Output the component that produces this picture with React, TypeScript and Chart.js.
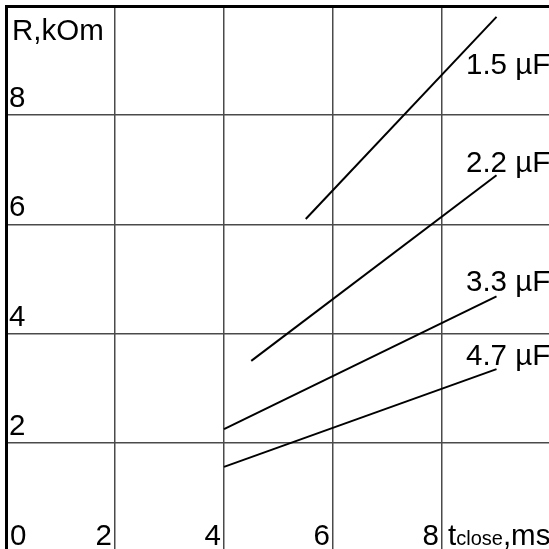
import React, { useEffect, useRef } from "react";
import { Chart, registerables } from "chart.js";

Chart.register(...registerables);

// ---- data ----
const seriesNames = ["1.5 µF", "2.2 µF", "3.3 µF", "4.7 µF"];
const tClose15 = [5.5, 9.0];
const r15 = [6.1, 9.8];
const tClose22 = [4.5, 9.0];
const r22 = [3.5, 6.9];
const tClose33 = [4.0, 9.0];
const r33 = [2.25, 4.68];
const tClose47 = [4.0, 9.0];
const r47 = [1.56, 3.35];
const xTicks = [0, 2, 4, 6, 8];
const yTicks = [2, 4, 6, 8];
// label anchors in data units
const labelX = 8.44;
const labelY = [8.75, 6.96, 4.78, 3.42];

const FONT = '"Liberation Sans", Arial, sans-serif';
const FS = 29.5;

const toPoints = (xs: number[], ys: number[]) => xs.map((x, i) => ({ x, y: ys[i] }));

const textPlugin = {
  id: "texts",
  afterDraw(chart: any) {
    const ctx = chart.ctx;
    const xs = chart.scales.x;
    const ys = chart.scales.y;
    ctx.save();
    ctx.fillStyle = "#000";
    ctx.textBaseline = "alphabetic";
    ctx.font = `${FS}px ${FONT}`;
    // x tick labels
    const baseX = 545;
    xTicks.forEach((v) => {
      const px = xs.getPixelForValue(v);
      if (v === 0) {
        ctx.textAlign = "left";
        ctx.fillText(String(v), px + 4, baseX);
      } else {
        ctx.textAlign = "right";
        ctx.fillText(String(v), px - 3, baseX);
      }
    });
    // y tick labels
    ctx.textAlign = "left";
    yTicks.forEach((v) => {
      const py = ys.getPixelForValue(v);
      ctx.fillText(String(v), 9, py - 8);
    });
    // y title
    ctx.fillText("R,kOm", 12, 40);
    // x title: t_close,ms
    let x0 = xs.getPixelForValue(8) + 6;
    ctx.fillText("t", x0, baseX);
    x0 += ctx.measureText("t").width;
    ctx.font = `20px ${FONT}`;
    ctx.fillText("close", x0, baseX);
    x0 += ctx.measureText("close").width;
    ctx.font = `${FS}px ${FONT}`;
    ctx.fillText(",ms", x0, baseX);
    // series labels
    seriesNames.forEach((n, i) => {
      ctx.fillText(n, xs.getPixelForValue(labelX), ys.getPixelForValue(labelY[i]));
    });
    ctx.restore();
  },
};

export default function App() {
  const ref = useRef<HTMLCanvasElement>(null);
  useEffect(() => {
    document.body.style.margin = "0";
    const canvas = ref.current!;
    const lineStyle = {
      showLine: true,
      borderColor: "#000",
      borderWidth: 2,
      pointRadius: 0,
      fill: false,
    };
    const chart = new Chart(canvas, {
      type: "scatter",
      data: {
        datasets: [
          { label: seriesNames[0], data: toPoints(tClose15, r15), ...lineStyle },
          { label: seriesNames[1], data: toPoints(tClose22, r22), ...lineStyle },
          { label: seriesNames[2], data: toPoints(tClose33, r33), ...lineStyle },
          { label: seriesNames[3], data: toPoints(tClose47, r47), ...lineStyle },
        ],
      },
      options: {
        animation: false,
        responsive: false,
        devicePixelRatio: 1,
        layout: { padding: { left: 6, top: 6, right: 0, bottom: 0 } },
        plugins: { legend: { display: false }, tooltip: { enabled: false } },
        scales: {
          x: {
            type: "linear",
            position: "top",
            min: 0,
            max: 9.963,
            afterBuildTicks: (s: any) => {
              s.ticks = xTicks.map((value) => ({ value }));
            },
            ticks: { display: false },
            grid: { color: "#4a4a4a", lineWidth: 1.5, drawTicks: false },
            border: { color: "#000", width: 3 },
          },
          y: {
            type: "linear",
            position: "left",
            min: 0.055,
            max: 10,
            afterBuildTicks: (s: any) => {
              s.ticks = yTicks.map((value) => ({ value }));
            },
            ticks: { display: false },
            grid: { color: "#4a4a4a", lineWidth: 1.5, drawTicks: false },
            border: { color: "#000", width: 3 },
          },
        },
      } as any,
      plugins: [textPlugin],
    });
    return () => chart.destroy();
  }, []);
  return (
    <div style={{ width: 549, height: 549, overflow: "hidden", background: "#fff" }}>
      <canvas ref={ref} width={549} height={549} style={{ display: "block" }} />
    </div>
  );
}
